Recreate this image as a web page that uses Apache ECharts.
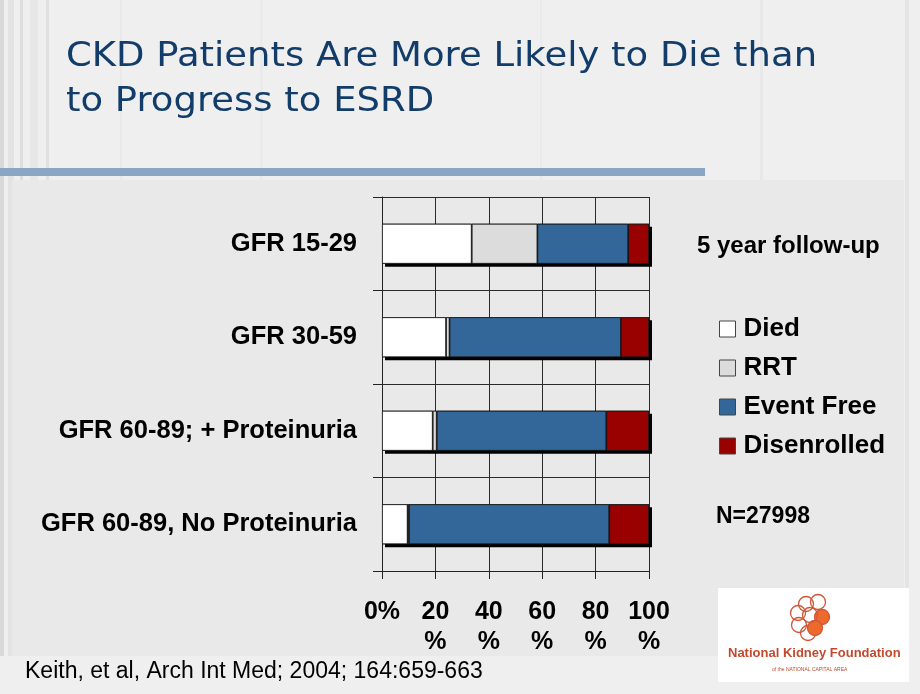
<!DOCTYPE html>
<html>
<head>
<meta charset="utf-8">
<script src="https://cdn.jsdelivr.net/npm/echarts@6/dist/echarts.min.js"></script>
<style>html,body{margin:0;padding:0;background:#efefef;}#c{width:920px;height:694px;}</style>
</head>
<body>
<div id="c"></div>
<script>
var categories = ['GFR 15-29', 'GFR 30-59', 'GFR 60-89; + Proteinuria', 'GFR 60-89, No Proteinuria'];
var died = [33.6, 24.0, 19.0, 9.6];
var rrt = [24.6, 1.3, 1.5, 0.5];
var eventFree = [34.0, 64.2, 63.5, 75.0];
var disenrolled = [7.8, 10.5, 16.0, 14.9];
var xTicks = [0, 20, 40, 60, 80, 100];

var totals = categories.map(function (c, i) { return died[i] + rrt[i] + eventFree[i] + disenrolled[i]; });

var chart = echarts.init(document.getElementById('c'), null, {renderer: 'canvas'});

var mkSeries = function (name, data, color) {
  return {
    name: name, type: 'bar', stack: 'total', data: data,
    barWidth: 40, barGap: '-100%',
    itemStyle: {color: color, borderColor: '#1a1a1a', borderWidth: 0.8},
    emphasis: {disabled: true}, animation: false
  };
};

var stripes = [];
[[0,4,'#d9d9d9'],[8,6,'#e3e3e3'],[20,3,'#dddddd'],[30,8,'#e7e7e7'],[46,3,'#e0e0e0'],[120,2,'#e9e9e9'],[260,3,'#eaeaea'],[540,2,'#eaeaea'],[760,3,'#e8e8e8'],[905,4,'#e5e5e5']].forEach(function (s) {
  stripes.push({type: 'rect', z: -20, shape: {x: s[0], y: 0, width: s[1], height: 694}, style: {fill: s[2]}});
});

var flower = [
  [806, 604, false], [818, 602, false], [798, 613, false], [799, 625, false], [808, 633, false],
  [822, 617, true], [815, 628, true], [810, 615, false]
];
var flowerEls = flower.map(function (f) {
  return {type: 'circle', z: 110, shape: {cx: f[0], cy: f[1], r: 7.5},
    style: {fill: f[2] ? '#ee6a2c' : 'rgba(255,255,255,0)', stroke: '#d0573a', lineWidth: 1.3}};
});

var option = {
  backgroundColor: '#efefef',
  animation: false,
  grid: {left: 382, right: 271, top: 197, bottom: 123, containLabel: false},
  xAxis: {
    type: 'value', min: 0, max: 100, interval: 20,
    axisLine: {show: true, lineStyle: {color: '#222', width: 1}},
    axisTick: {show: true, length: 8, lineStyle: {color: '#222'}},
    splitLine: {show: true, lineStyle: {color: '#2a2a2a', width: 1}},
    axisLabel: {
      margin: 26, color: '#000', fontFamily: 'Liberation Sans', fontWeight: 'bold', fontSize: 25, lineHeight: 30,
      formatter: function (v) { return v === xTicks[0] ? v + '%' : v + '\n%'; }
    }
  },
  yAxis: {
    type: 'category', data: categories, inverse: true,
    axisLine: {show: true, lineStyle: {color: '#222', width: 1}},
    axisTick: {show: true, length: 9, lineStyle: {color: '#222'}},
    splitLine: {show: true, lineStyle: {color: '#2a2a2a', width: 1}},
    axisLabel: {margin: 25, color: '#000', fontFamily: 'Liberation Sans', fontWeight: 'bold', fontSize: 25.5}
  },
  legend: {
    orient: 'vertical', left: 719, top: 316, padding: 0, itemWidth: 16, itemHeight: 16, itemGap: 13,
    icon: 'rect',
    selectedMode: false,
    itemStyle: {borderColor: '#444', borderWidth: 1},
    textStyle: {color: '#000', fontFamily: 'Liberation Sans', fontWeight: 'bold', fontSize: 26, lineHeight: 25, padding: [0, 0, 0, 3]},
    data: ['Died', 'RRT', 'Event Free', 'Disenrolled']
  },
  series: [
    {
      name: 'shadow', type: 'bar', data: totals, barWidth: 40, barGap: '-100%', z: 1,
      itemStyle: {color: '#000', shadowColor: '#000', shadowBlur: 0, shadowOffsetX: 3, shadowOffsetY: 3},
      emphasis: {disabled: true}, silent: true, animation: false
    },
    mkSeries('Died', died, '#ffffff'),
    mkSeries('RRT', rrt, '#dcdcdc'),
    mkSeries('Event Free', eventFree, '#336699'),
    mkSeries('Disenrolled', disenrolled, '#990000')
  ],
  graphic: stripes.concat([
    {type: 'rect', z: -10, shape: {x: 12, y: 180, width: 892, height: 476}, style: {fill: '#e9e9e9'}},
    {type: 'rect', z: -5, shape: {x: 0, y: 168, width: 705, height: 8}, style: {fill: '#8ba6c5'}},
    {type: 'text', z: 10, x: 66, y: 41, scaleX: 1.12, style: {x: 0, y: 0, text: 'CKD Patients Are More Likely to Die than', fill: '#123c69', font: '33px "DejaVu Sans"', verticalAlign: 'top'}},
    {type: 'text', z: 10, x: 66, y: 86, scaleX: 1.12, style: {x: 0, y: 0, text: 'to Progress to ESRD', fill: '#123c69', font: '33px "DejaVu Sans"', verticalAlign: 'top'}},
    {type: 'text', z: 10, left: 697, top: 234, style: {text: '5 year follow-up', fill: '#000', font: 'bold 24px "Liberation Sans"'}},
    {type: 'text', z: 10, left: 716, top: 505, style: {text: 'N=27998', fill: '#000', font: 'bold 23px "Liberation Sans"'}},
    {type: 'rect', z: 100, shape: {x: 0, y: 656, width: 920, height: 38}, style: {fill: '#efefef'}},
    {type: 'text', z: 101, left: 25, top: 660, style: {text: 'Keith, et al, Arch Int Med; 2004; 164:659-663', fill: '#000', font: '23px "Liberation Sans"'}},
    {type: 'rect', z: 105, shape: {x: 718, y: 588, width: 191, height: 94}, style: {fill: '#ffffff'}},
    {type: 'text', z: 110, left: 728, top: 647, style: {text: 'National Kidney Foundation', fill: '#bf4a2e', font: '600 13px "Liberation Sans"'}},
    {type: 'text', z: 110, left: 772, top: 667, style: {text: 'of the NATIONAL CAPITAL AREA', fill: '#bf4a2e', font: '5px "Liberation Sans"'}}
  ]).concat(flowerEls)
};
chart.setOption(option);
</script>
</body>
</html>
